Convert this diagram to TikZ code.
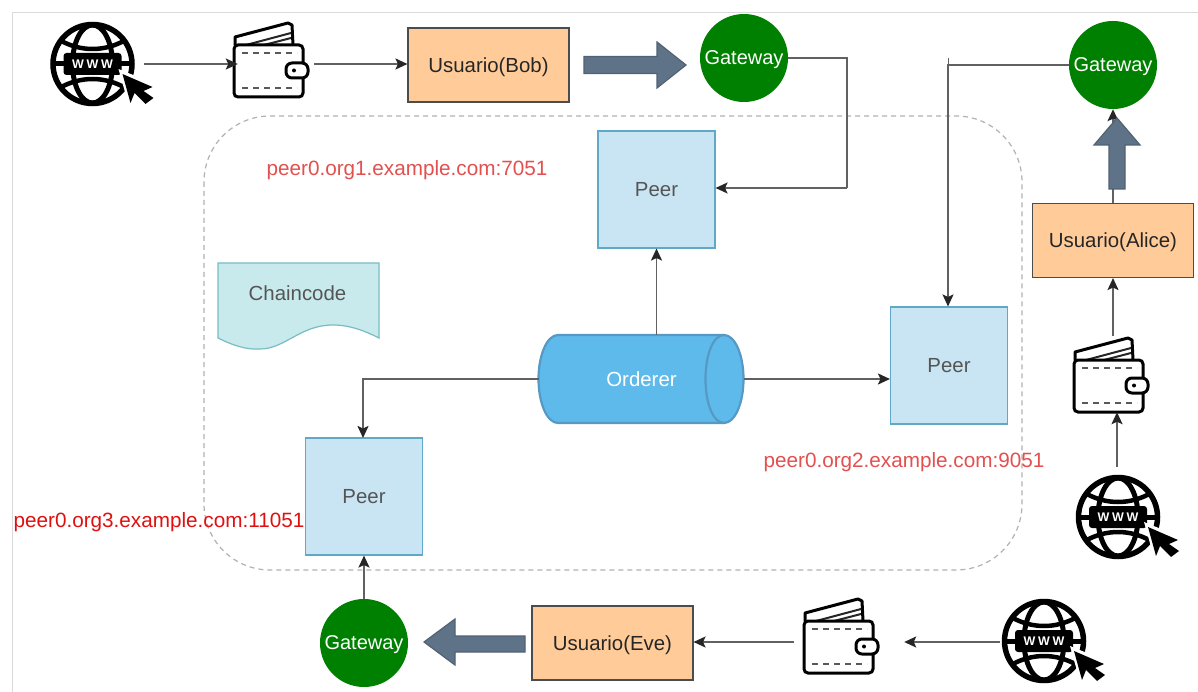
\documentclass[tikz,border=0pt]{standalone}
\usepackage{fontspec}
\setmainfont{Liberation Sans}
\usetikzlibrary{arrows.meta}
\definecolor{peerfill}{HTML}{C9E5F4}
\definecolor{peerline}{HTML}{5FA8C8}
\definecolor{userfill}{HTML}{FFCC99}
\definecolor{gwgreen}{HTML}{008000}
\definecolor{arrowblue}{HTML}{5F7388}
\definecolor{cylfill}{HTML}{5FBAEC}
\definecolor{cylline}{HTML}{5599C4}
\definecolor{chainfill}{HTML}{C8EAEC}
\definecolor{chainline}{HTML}{78BCC4}
\definecolor{labelred}{HTML}{E2504F}
\definecolor{labelred2}{HTML}{E01010}
\definecolor{inktext}{HTML}{555555}
\newcommand{\boxfont}{\fontsize{20.4}{24}\selectfont}
\tikzset{
  x=1pt,y=-1pt,
  peer/.style={draw=peerline,fill=peerfill,line width=1.1pt,minimum width=117pt,minimum height=117pt,text=inktext,font=\boxfont},
  usuario/.style={draw=black!70,fill=userfill,line width=1.1pt,minimum width=161pt,minimum height=74pt,text=black!85,text depth=0pt,font=\boxfont},
  gateway/.style={circle,fill=gwgreen,minimum size=88pt,inner sep=0pt,text=white,text depth=0pt,font=\fontsize{20}{24}\selectfont},
  iconbox/.style={inner sep=0pt,minimum width=0pt,minimum height=0pt},
  conn/.style={draw=black!62,line width=1.9pt,-{Stealth[length=12pt,width=11pt,inset=2.5pt,black!85]}},
  plainconn/.style={draw=black!62,line width=1.9pt},
  blockarrow/.style={draw=arrowblue!85!black,fill=arrowblue,line width=1.2pt,line join=miter},
  peerlabel/.style={text=labelred,text depth=0pt,font=\fontsize{20.7}{24}\selectfont,inner sep=0pt},
  globe/.pic={
    \draw[black,line width=5.5pt] (0,0) circle (39.5);
    \draw[black,line width=5pt] (0,0) ellipse (20 and 39);
    \draw[black,line width=4.5pt] (-33,-24) .. controls (-12,-12) and (12,-12) .. (33,-24);
    \draw[black,line width=4.5pt] (-33,24) .. controls (-12,12) and (12,12) .. (33,24);
    \draw[black,line width=5pt] (-39,0) -- (39,0);
    \fill[black,rounded corners=3pt] (-29,-11) rectangle (29,11);
    \node[text=white,font=\bfseries\fontsize{12.5}{14}\selectfont,inner sep=0pt] at (0,0) {\addfontfeatures{LetterSpace=22}WWW};
    \fill[white] (26,5) -- (65,21) -- (57,28) -- (66,35) -- (53,45) -- (44,35) -- (37,44) -- cycle;
    \fill[black] (30,10) -- (60,23) -- (51,27) -- (61,34) -- (53,40) -- (42,29) -- (38,39) -- cycle;
  },
  wallet/.pic={
    \draw[black,line width=3pt,line join=round,fill=white] (-37,-17) -- (-37,-25) -- (16,-39) -- (20,-37) -- (21,-17);
    \draw[black!85,line width=2pt] (-26,-17) -- (19,-29);
    \draw[black!85,line width=2pt] (-8,-17) -- (19,-24);
    \draw[black,line width=3pt,rounded corners=4pt,fill=white] (-38,-17) rectangle (31,35);
    \draw[black!65,line width=2pt,dash pattern=on 6pt off 5pt] (-30,-9) -- (25,-9);
    \draw[black!65,line width=2pt,dash pattern=on 6pt off 5pt] (-30,26) -- (25,26);
    \draw[black,line width=3pt,rounded corners=6pt,fill=white] (14,1) rectangle (36,16);
    \fill[black] (22,8.5) circle (2);
  }
}
\begin{document}
\begin{tikzpicture}
\useasboundingbox (0,0) rectangle (1198,692);
\fill[white] (0,0) rectangle (1198,692);
\draw[black!15,line width=1pt] (12,692) -- (12,13) -- (1198,13);

% dashed container
\draw[black!30,line width=1.2pt,dash pattern=on 5pt off 4pt,rounded corners=66pt] (204,116) rectangle (1022,570);

% icons
\pic at (92.5,64) {globe};
\pic at (272,62) {wallet};
\pic at (1112,377) {wallet};
\pic at (1118,517) {globe};
\pic at (842,638) {wallet};
\pic at (1044,641) {globe};
\node[iconbox] (webA) at (144,64) {};
\node[iconbox] (walA) at (238,64) {};
\node[iconbox] (walAo) at (314,64) {};
\node[iconbox] (webB) at (1117,467) {};
\node[iconbox] (walB) at (1117,412) {};
\node[iconbox] (walBo) at (1113,336) {};
\node[iconbox] (webC) at (1000,642) {};
\node[iconbox] (walC) at (904,642) {};
\node[iconbox] (walCo) at (794,642) {};

% boxes
\node[usuario] (bob) at (488.5,65) {Usuario(Bob)};
\node[usuario] (alice) at (1113,240.5) {Usuario(Alice)};
\node[usuario] (eve) at (612.5,643) {Usuario(Eve)};
\node[gateway] (gw1) at (744,58) {Gateway};
\node[gateway] (gw2) at (1113,65) {Gateway};
\node[gateway] (gw3) at (364,643) {Gateway};
\node[peer] (peer1) at (656.5,189.5) {Peer};
\node[peer] (peer2) at (949,365.5) {Peer};
\node[peer] (peer3) at (364,496.5) {Peer};

% orderer cylinder
\draw[cylline,fill=cylfill,line width=2.2pt]
  (558,335) -- (724,335) .. controls (735,335) and (743.5,355) .. (743.5,379)
  .. controls (743.5,403) and (735,423) .. (724,423) -- (558,423)
  .. controls (547,423) and (538.5,403) .. (538.5,379)
  .. controls (538.5,355) and (547,335) .. (558,335) -- cycle;
\draw[cylline,line width=2.2pt] (724,335) .. controls (713,335) and (705.5,355) .. (705.5,379)
  .. controls (705.5,403) and (713,423) .. (724,423);
\node[iconbox,minimum width=205pt,minimum height=88pt,text=white,font=\boxfont] (ord) at (641.5,379) {Orderer};

% chaincode
\draw[chainline,fill=chainfill,line width=1.2pt] (218,263) -- (379,263) -- (379,338)
  .. controls (365,331) and (350,325) .. (333,325)
  .. controls (300,325) and (285,349) .. (260,349)
  .. controls (246,350) and (232,345) .. (218,338) -- cycle;
\node[inner sep=0pt,text=inktext,font=\boxfont] (cc) at (297.5,293) {Chaincode};

% connectors
\draw[conn] (webA) -- (walA);
\draw[conn] (walAo) -- (walAo -| bob.west);
\draw[plainconn,line width=1.4pt] (gw1.east) -- (847,58) -- (847,188);
\draw[conn,line width=1.4pt] (847,188) -- (peer1.east |- 847,188);
\coordinate (tick) at (948,58);
\draw[conn,line width=1.4pt] (gw2.west) -- (948,65) -- (peer2.north -| 948,65);
\draw[plainconn,line width=1pt] (tick) -- (948,65);
\draw[conn] (ord.north -| peer1.south) -- (peer1.south);
\draw[conn] (ord.east) -- (peer2.west |- ord.east);
\draw[conn] (ord.west) -- (363,379) -- (363,438);
\draw[conn] (gw3.north) -- (peer3.south);
\draw[conn] (alice.north) -- (gw2.south);
\draw[conn] (walBo) -- (walBo |- alice.south);
\draw[conn] (webB) -- (walB);
\draw[conn] (walCo) -- (walCo -| eve.east);
\draw[conn] (webC) -- (walC);

% block arrows
\draw[blockarrow] (584,56.5) -- (657,56.5) -- (657,42) -- (686,65) -- (657,88) -- (657,73.5) -- (584,73.5) -- cycle;
\draw[blockarrow] (1109,189) -- (1109,145) -- (1094,145) -- (1117,118) -- (1140,145) -- (1125,145) -- (1125,189) -- cycle;
\draw[blockarrow] (525,636) -- (455,636) -- (455,619) -- (424,642) -- (455,665) -- (455,652) -- (525,652) -- cycle;

% labels
\node[peerlabel] (l1) at (407,168) {peer0.org1.example.com:7051};
\node[peerlabel] (l2) at (904,460) {peer0.org2.example.com:9051};
\node[peerlabel,text=labelred2] (l3) at (159,520) {peer0.org3.example.com:11051};
\end{tikzpicture}
\end{document}
